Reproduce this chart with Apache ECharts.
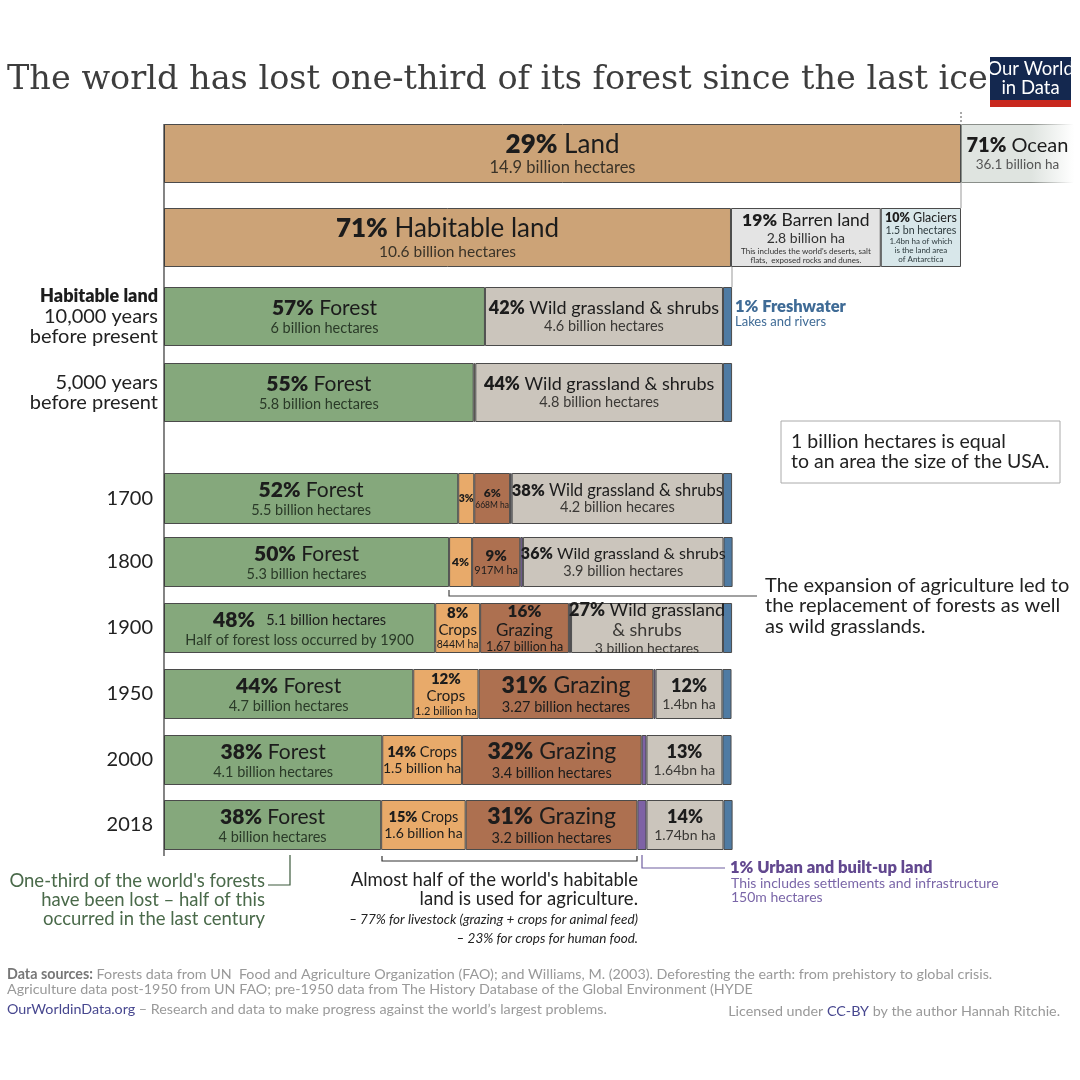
<!DOCTYPE html>
<html><head><meta charset="utf-8">
<style>html,body{margin:0;padding:0;background:#fff}#c{width:1080px;height:1080px}</style>
<script src="https://cdn.jsdelivr.net/npm/echarts@6/dist/echarts.min.js"></script>
</head><body><div id="c"></div>
<script>
// ---------- values, in billion hectares ----------
const rowLabels = ['Land','Habitable','Habitable land\n10,000 years\nbefore present','5,000 years\nbefore present','1700','1800','1900','1950','2000','2018'];
const landTotal = [14.9];
const oceanTotal = [36.1];
const habitable = [10.6];
const barren = [2.8];
const glaciers = [1.5];
const forest = [6.0,5.79,5.5,5.33,5.07,4.66,4.08,4.06];
const crops = [0,0.03,0.30,0.43,0.84,1.22,1.49,1.58];
const grazing = [0,0,0.67,0.90,1.66,3.27,3.36,3.21];
const urban = [0,0,0.03,0.05,0.04,0.04,0.09,0.17];
const wild = [4.45,4.63,3.95,3.75,2.84,1.25,1.42,1.44];
const freshwater = [0.17,0.17,0.17,0.17,0.17,0.17,0.17,0.17];

// ---------- label texts ("|" ends the bold part of a line) ----------
const landLabel = ['29%| Land\n14.9 billion hectares'];
const oceanLabel = ['71%| Ocean\n36.1 billion ha'];
const habitableLabel = ['71%| Habitable land\n10.6 billion hectares'];
const barrenLabel = ["19%| Barren land\n2.8 billion ha\nThis includes the world's deserts, salt\nflats,  exposed rocks and dunes."];
const glaciersLabel = ['10%| Glaciers\n1.5 bn hectares\n1.4bn ha of which\nis the land area\nof Antarctica'];
const forestLabels = ['57%| Forest\n6 billion hectares','55%| Forest\n5.8 billion hectares','52%| Forest\n5.5 billion hectares','50%| Forest\n5.3 billion hectares','48%|   5.1 billion hectares\nHalf of forest loss occurred by 1900','44%| Forest\n4.7 billion hectares','38%| Forest\n4.1 billion hectares','38%| Forest\n4 billion hectares'];
const cropLabels = ['','','3%|','4%|','8%|\nCrops\n844M ha','12%|\nCrops\n1.2 billion ha','14%| Crops\n1.5 billion ha','15%| Crops\n1.6 billion ha'];
const grazingLabels = ['','','6%|\n668M ha','9%|\n917M ha','16%|\nGrazing\n1.67 billion ha','31%| Grazing\n3.27 billion hectares','32%| Grazing\n3.4 billion hectares','31%| Grazing\n3.2 billion hectares'];
const wildLabels = ['42%| Wild grassland & shrubs\n4.6 billion hectares','44%| Wild grassland & shrubs\n4.8 billion hectares','38%| Wild grassland & shrubs\n4.2 billion hecares','36%| Wild grassland & shrubs\n3.9 billion hectares','27%| Wild grassland\n& shrubs\n3 billion hectares','12%|\n1.4bn ha','13%|\n1.64bn ha','14%|\n1.74bn ha'];

// ---------- layout and style (kept apart from the values) ----------
const PX_PER_BN = 53.49, X0 = 164, AXIS_MAX = 17;
const rowBox = [[124,59],[208,59],[287,59],[363,59],[473,51],[537,50],[603,50],[669,50],[735,50],[800,50]];
const sizes = {
  land:[[26],16.5], ocean:[[20],13.5], habitable:[[26],15.5],
  barren:[[17.5],14,8,8], glaciers:[[12.5],10.5,8,8,8],
  forest:[[[21],14.5],[[21],14.5],[[21],14.5],[[21],14.5],[[21,14.5],14.5],[[21],14.5],[[21],14.5],[[21],14.5]],
  crops:[null,null,[[10.5]],[[12]],[[15],15,10.5],[[15],15,11],[[14.5],14],[[14.5],14]],
  grazing:[null,null,[[12],8.5],[[15],11],[[17],17,12.5],[[23],14.5],[[23],14.5],[[23],14.5]],
  wild:[[[18],14.5],[[18],14.5],[[16.5],14.5],[[16],14.5],[[18],18,14],[[18],14],[[18],14],[[18],14]]
};
const colors = {land:'#CCA377',ocean:'#DFE4E0',habitable:'#CCA377',barren:'#E4E4E4',glaciers:'#D8E7EA',forest:'#85A87C',crops:'#E8AA6A',grazing:'#AD7050',urban:'#7E62A5',wild:'#CBC5BC',freshwater:'#4F7BA3'};
const subColors = {land:'#3a3328',ocean:'#555',habitable:'#3a3328',barren:'#333',glaciers:'#2d3a3d',forest:'#2a3a28',crops:'#3a2c1c',grazing:'#3c2418',wild:'#3a3835'};
const edge = '#4b4b4b', FONT = 'Lato';

const rich = {};
function styleKey(kind,size){
  const k = kind + String(size).replace('.','_');
  if(!rich[k]) rich[k] = {fontFamily:FONT,fontSize:size,lineHeight:Math.round(size*1.12),color:'#1c1c1c',fontWeight:kind==='b'?800:400};
  return k;
}
function makeLabel(text,sz,type){
  if(!text||!sz) return {show:false};
  const lines = text.split('\n').map((line,i)=>{
    const s = sz[i];
    const main = Array.isArray(s)? s[0] : s;
    const second = Array.isArray(s)&&s[1]? s[1] : main;
    if(line.includes('|')){
      const [b,rest] = line.split('|');
      const kb = styleKey('b',main);
      return `{${kb}|${b}}` + (rest? `{${styleKey('n',second)}|${rest}}` : '');
    }
    return `{${styleKey(type==='grazing'||type==='crops'?'n':'s'+type,main)}|${line}}`;
  });
  const m = Object.keys(rich);
  m.forEach(k=>{ if(k.startsWith('s'+type)) rich[k].color = subColors[type]; });
  return {show:true,position:'inside',formatter:lines.join('\n'),rich,align:'center',verticalAlign:'middle',color:'#1c1c1c',fontFamily:FONT};
}

const grids=[],xAxes=[],yAxes=[],series=[];
rowBox.forEach((b,i)=>{
  grids.push({left:X0,top:b[0],height:b[1],width:AXIS_MAX*PX_PER_BN,containLabel:false});
  xAxes.push({type:'value',gridIndex:i,min:0,max:AXIS_MAX,show:false});
  yAxes.push({type:'category',gridIndex:i,data:[rowLabels[i]],axisLine:{show:false},axisTick:{show:false},
    axisLabel:{show:i>1,margin:i<4?6:11,align:'right',
      formatter:v=>v.split('\n').map(l=>(l==='Habitable land'?'{b|':'{n|')+l+'}').join('\n'),
      rich:{b:{fontFamily:FONT,fontSize:18,fontWeight:800,color:'#1c1c1c',lineHeight:20},n:{fontFamily:FONT,fontSize:20,color:'#222',lineHeight:20}}}});
});
function addSeg(row,type,value,label,sz,extra){
  if(!value) return;
  series.push(Object.assign({type:'bar',name:type,xAxisIndex:row,yAxisIndex:row,stack:'r'+row,barWidth:'100%',
    data:[value],silent:true,animation:false,
    itemStyle:{color:colors[type],borderColor:edge,borderWidth:1},
    label:makeLabel(label,sz,type)},extra||{}));
}
const fade = c=>({type:'linear',x:0,y:0,x2:1,y2:0,colorStops:[{offset:0,color:c},{offset:.62,color:c},{offset:1,color:'#ffffff'}]});
addSeg(0,'land',landTotal[0],landLabel[0],sizes.land);
addSeg(0,'ocean',oceanTotal[0],oceanLabel[0],sizes.ocean,{itemStyle:{color:fade(colors.ocean),borderColor:fade('#8a8f8a'),borderWidth:1}});
addSeg(1,'habitable',habitable[0],habitableLabel[0],sizes.habitable);
addSeg(1,'barren',barren[0],barrenLabel[0],sizes.barren);
addSeg(1,'glaciers',glaciers[0],glaciersLabel[0],sizes.glaciers);
forest.forEach((_,k)=>{
  const r=k+2;
  addSeg(r,'forest',forest[k],forestLabels[k],sizes.forest[k]);
  addSeg(r,'crops',crops[k],cropLabels[k],sizes.crops[k]);
  addSeg(r,'grazing',grazing[k],grazingLabels[k],sizes.grazing[k]);
  addSeg(r,'urban',urban[k]);
  addSeg(r,'wild',wild[k],wildLabels[k],sizes.wild[k]);
  addSeg(r,'freshwater',freshwater[k]);
});

// ---------- annotations ----------
function txt(x,y,text,size,color,o){o=o||{};
  return {type:'text',x,y,z:50,silent:true,style:Object.assign({text,fontFamily:o.family||FONT,fontSize:size,fill:color,
    align:o.align||'left',verticalAlign:'middle',fontWeight:o.weight||400,fontStyle:o.style||'normal',rich:o.rich},{})};
}
function path(points,color,w,dash){
  return {type:'polyline',z:40,silent:true,shape:{points},style:{stroke:color,lineWidth:w||1,fill:null,lineDash:dash||null}};
}
const r = (f,c,w)=>({fontFamily:FONT,fontSize:f,fill:c,color:c,fontWeight:w||400});
const graphic = [
  txt(7,80,'The world has lost one-third of its forest since the last ice age',33.5,'#3d3d3d',{family:'DejaVu Serif'}),
  {type:'rect',z:50,silent:true,shape:{x:990,y:57,width:81,height:43},style:{fill:'#14284f'}},
  {type:'rect',z:50,silent:true,shape:{x:990,y:100,width:81,height:7},style:{fill:'#C8281E'}},
  txt(1030.5,69,'Our World',18.5,'#fff',{align:'center'}),
  txt(1030.5,88,'in Data',18.5,'#fff',{align:'center'}),
  path([[164,124],[164,856]],'#333',1.2),
  path([[961,112],[961,124]],'#555',1,[2,2]),
  path([[961,183],[961,208]],'#999',1),
  path([[732,267],[732,287]],'#999',1),
  txt(735,307,'1% Freshwater',16.5,'#3F6B96',{weight:800}),
  txt(735,322,'Lakes and rivers',13,'#3F6B96'),
  {type:'rect',z:40,silent:true,shape:{x:781,y:421,width:279,height:62},style:{fill:'#fff',stroke:'#aaa',lineWidth:1}},
  txt(791,442,'1 billion hectares is equal',19.5,'#222'),
  txt(791,462,'to an area the size of the USA.',19.5,'#222'),
  path([[449,590],[449,596],[757,596]],'#444',1.2),
  txt(765,586,'The expansion of agriculture led to',20,'#222'),
  txt(765,606,'the replacement of forests as well',20,'#222'),
  txt(765,627,'as wild grasslands.',20,'#222'),
  path([[290,855],[290,885],[268,885]],'#3d5a3d',1.2),
  txt(265,881,"One-third of the world's forests",18.5,'#4a6a4a',{align:'right'}),
  txt(265,900,'have been lost – half of this',18.5,'#4a6a4a',{align:'right'}),
  txt(265,919,'occurred in the last century',18.5,'#4a6a4a',{align:'right'}),
  path([[382,856],[382,861],[637,861],[637,856]],'#333',1.2),
  txt(638,880,"Almost half of the world's habitable",18.5,'#222',{align:'right'}),
  txt(638,899,'land is used for agriculture.',18.5,'#222',{align:'right'}),
  txt(638,920,'– 77% for livestock (grazing + crops for animal feed)',13.5,'#222',{align:'right',style:'italic'}),
  txt(638,939,'– 23% for crops for human food.',13.5,'#222',{align:'right',style:'italic'}),
  path([[642,855],[642,868],[725,868]],'#6f5ea0',1.2),
  txt(730,868,'1% Urban and built-up land',16.5,'#62488F',{weight:800}),
  txt(731,883,'This includes settlements and infrastructure',14,'#7A66A8'),
  txt(731,897,'150m hectares',14,'#7A66A8'),
  txt(7,974,'{a|Data sources:}{b| Forests data from UN  Food and Agriculture Organization (FAO); and Williams, M. (2003). Deforesting the earth: from prehistory to global crisis.}',14.3,'#999',{rich:{a:r(14.3,'#777',700),b:r(14.3,'#999')}}),
  txt(7,989,'Agriculture data post-1950 from UN FAO; pre-1950 data from The History Database of the Global Environment (HYDE',14.3,'#999'),
  txt(7,1009,'{a|OurWorldinData.org}{b| – Research and data to make progress against the world’s largest problems.}',14.3,'#999',{rich:{a:r(14.3,'#47478f'),b:r(14.3,'#999')}}),
  txt(1060,1011,'{b|Licensed under }{a|CC-BY}{b| by the author Hannah Ritchie.}',14.3,'#999',{align:'right',rich:{a:r(14.3,'#47478f'),b:r(14.3,'#999')}})
];

const chart = echarts.init(document.getElementById('c'),null,{renderer:'canvas'});
chart.setOption({animation:false,backgroundColor:'#fff',grid:grids,xAxis:xAxes,yAxis:yAxes,series,graphic});
</script></body></html>
